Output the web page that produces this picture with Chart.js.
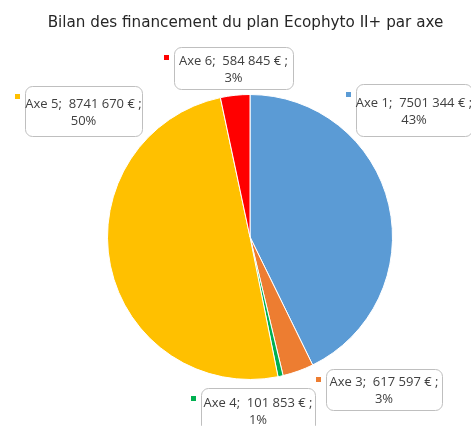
<!DOCTYPE html>
<html>
<head>
<meta charset="utf-8">
<script src="https://cdn.jsdelivr.net/npm/chart.js@4/dist/chart.umd.min.js"></script>
<style>
  html, body { margin: 0; padding: 0; background: #fff; }
  #wrap { width: 471px; height: 426px; position: relative; overflow: hidden; }
  #titre {
    position: absolute; left: 10px; top: 12px; width: 471px;
    text-align: center; white-space: nowrap;
    font: 15.2px "DejaVu Sans"; color: #262626; line-height: 20px;
  }
  #pie { position: absolute; left: 0; top: 0; }
</style>
</head>
<body>
<div id="wrap">
  <canvas id="pie"></canvas>
  <div id="titre">Bilan des financement du plan Ecophyto II+ par axe</div>
</div>
<script>
// données
const axes = ["Axe 1", "Axe 3", "Axe 4", "Axe 5", "Axe 6"];
const montants = [7501344, 617597, 101853, 8741670, 584845];
const pourcents = [43, 3, 1, 50, 3];
const couleurs = ["#5B9BD5", "#ED7D31", "#00B050", "#FFC000", "#FF0000"];

// position des étiquettes (x, y = coin haut gauche, w, h)
const boites = [
  { x: 356, y: 84, w: 116, h: 52 },
  { x: 326, y: 369, w: 116, h: 41 },
  { x: 201, y: 388, w: 114, h: 44 },
  { x: 25, y: 86, w: 117, h: 50 },
  { x: 174, y: 47, w: 119, h: 42 },
];

function formatMontant(n) {
  const s = String(n);
  return s.slice(0, -3) + " " + s.slice(-3);
}

const etiquettes = {
  id: "etiquettes",
  afterDraw(chart) {
    const ctx = chart.ctx;
    ctx.save();
    ctx.font = '13px "Open Sans"';
    ctx.textAlign = "center";
    ctx.textBaseline = "middle";
    boites.forEach((b, i) => {
      // cadre arrondi
      ctx.beginPath();
      ctx.roundRect(b.x + 0.5, b.y + 0.5, b.w, b.h, 7);
      ctx.fillStyle = "#fff";
      ctx.fill();
      ctx.strokeStyle = "#BFBFBF";
      ctx.lineWidth = 1;
      ctx.stroke();
      // petit carré de légende
      ctx.fillStyle = couleurs[i];
      ctx.fillRect(b.x - 10, b.y + 8, 5, 5);
      // texte
      ctx.fillStyle = "#404040";
      const cx = b.x + b.w / 2;
      const cy = b.y + b.h / 2;
      ctx.fillText(axes[i] + ";  " + formatMontant(montants[i]) + " € ;", cx, cy - 7);
      ctx.fillText(pourcents[i] + "%", cx, cy + 10);
    });
    ctx.restore();
  },
};

new Chart(document.getElementById("pie"), {
  type: "pie",
  data: {
    labels: axes,
    datasets: [
      {
        data: montants,
        backgroundColor: couleurs,
        borderColor: "#fff",
        borderWidth: 1,
      },
    ],
  },
  options: {
    responsive: true,
    maintainAspectRatio: false,
    animation: false,
    layout: { padding: { left: 107, right: 78, bottom: 46, top: 94 } },
    plugins: {
      legend: { display: false },
      tooltip: { enabled: false },
      title: { display: false },
    },
  },
  plugins: [etiquettes],
});
</script>
</body>
</html>
